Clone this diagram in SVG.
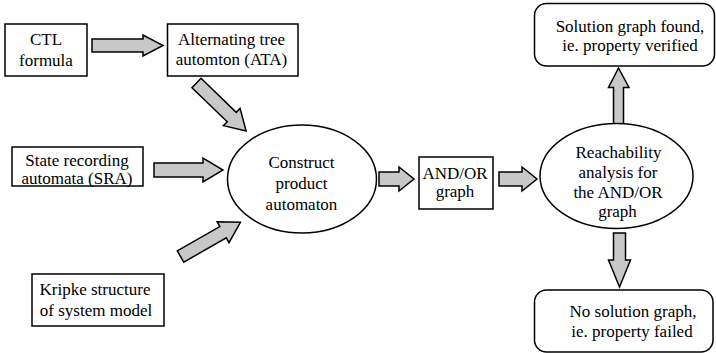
<svg xmlns="http://www.w3.org/2000/svg" width="716" height="353" viewBox="0 0 716 353">
<style>
.box{fill:#fff;stroke:#000;stroke-width:1.5}
.arr{fill:#c8c8c8;stroke:#000;stroke-width:1.5;stroke-linejoin:miter}
</style>
<defs>
<path id="diag" d="M0,-6.5 H49 V-12 L69,0 L49,12 V6.5 H0 Z"/>
</defs>
<rect width="716" height="353" fill="#fff"/>
<g id="connectors">
<path class="arr" d="M92,39 H143 V35 L163,45.5 L143,56 V52 H92 Z"/>
<path class="arr" d="M154,163 H203 V158 L223,170 L203,182 V177 H154 Z"/>
<use href="#diag" class="arr" transform="translate(196.5,83) rotate(44)"/>
<use href="#diag" class="arr" transform="translate(180.5,256.5) rotate(-29.7)"/>
<path class="arr" d="M379,172 H399 V167 L414,179 L399,191 V186 H379 Z"/>
<path class="arr" d="M499,172 H522 V167 L537,179 L522,191 V186 H499 Z"/>
<path class="arr" d="M613.5,124 V87.5 H608.5 L618.5,68 L629,87.5 H623.5 V124 Z"/>
<path class="arr" d="M613.5,233 V260 H608.5 L619.5,287 L630.5,260 H625.5 V233 Z"/>
</g>
<g fill="#000" font-size="17" text-anchor="middle">
<g id="ctl" font-family="Liberation Serif, serif">
<rect class="box" x="5" y="24" width="82" height="52"/>
<text x="46" y="45">CTL</text>
<text x="46" y="65.5">formula</text>
</g>
<g id="ata" font-family="Liberation Serif, serif">
<rect class="box" x="167.5" y="24" width="130.5" height="52"/>
<text x="231.5" y="45">Alternating tree</text>
<text x="231.5" y="65">automton (ATA)</text>
</g>
<g id="sra" font-family="Liberation Serif, serif">
<rect class="box" x="12" y="147" width="131" height="39"/>
<text x="77" y="166">State recording</text>
<text x="77" y="184">automata (SRA)</text>
</g>
<g id="kripke" font-family="Liberation Serif, serif">
<rect class="box" x="32" y="274" width="132" height="52"/>
<text x="95" y="295">Kripke structure</text>
<text x="96" y="316">of system model</text>
</g>
<g id="product" font-family="Liberation Serif, serif">
<ellipse class="box" cx="302" cy="179" rx="74.5" ry="54"/>
<text x="301.5" y="167.5">Construct</text>
<text x="301.5" y="188.5">product</text>
<text x="301.5" y="210">automaton</text>
</g>
<g id="andor" font-family="Liberation Serif, serif">
<rect class="box" x="419" y="157" width="74" height="52"/>
<text x="455" y="179">AND/OR</text>
<text x="455" y="197">graph</text>
</g>
<g id="reach" font-family="Liberation Serif, serif">
<ellipse class="box" cx="616.5" cy="176" rx="76.5" ry="52.5"/>
<text x="618.5" y="158">Reachability</text>
<text x="618" y="177.5">analysis for</text>
<text x="618" y="197.5">the AND/OR</text>
<text x="617.5" y="217">graph</text>
</g>
<g id="found" font-family="Liberation Serif, serif">
<rect class="box" x="534.5" y="3.5" width="180" height="62.5" rx="12"/>
<text x="630" y="32">Solution graph found,</text>
<text x="630" y="50.5">ie. property verified</text>
</g>
<g id="failed" font-family="Liberation Serif, serif">
<rect class="box" x="534.5" y="290" width="178.5" height="62" rx="12"/>
<text x="633" y="317">No solution graph,</text>
<text x="632" y="337">ie. property failed</text>
</g>
</g>
</svg>
